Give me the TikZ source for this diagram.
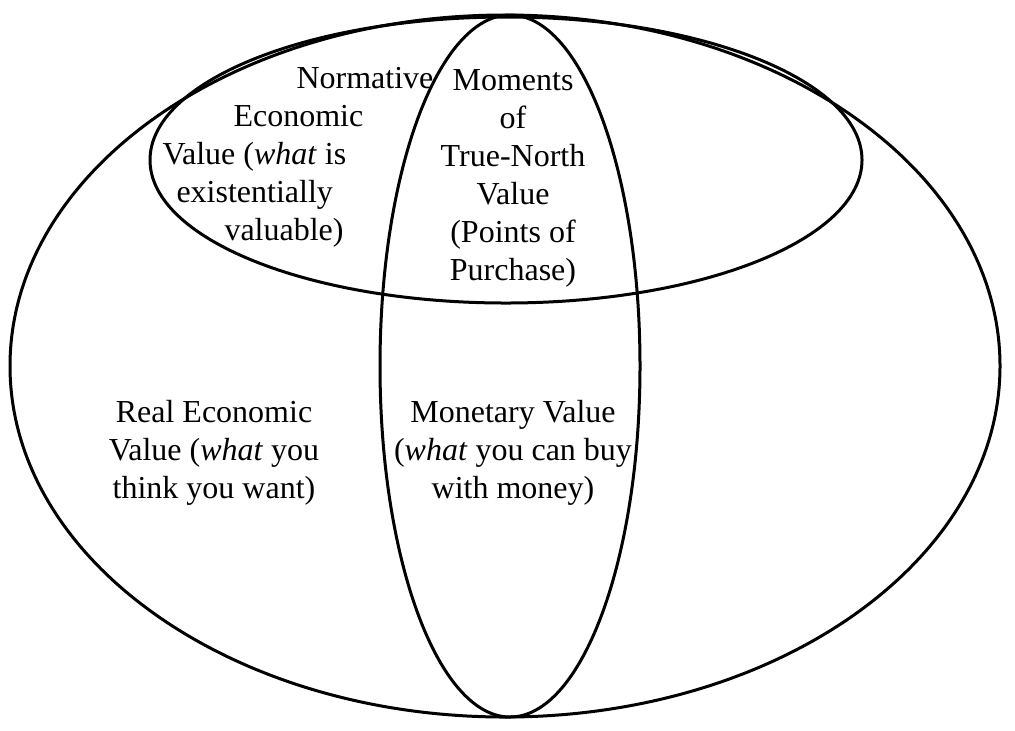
\documentclass[tikz,border=0pt]{standalone}
\usepackage{fontspec}
\setmainfont{Liberation Serif}

\begin{document}
\begin{tikzpicture}[x=0.5pt, y=-0.5pt, line width=1.5pt,
		txt/.style={font=\fontsize{16}{19}\selectfont, inner sep=0pt}]
		%%%%% START %%%%%
		\useasboundingbox (0, 0) rectangle (1015, 730);
		
		\draw (505, 366) ellipse [x radius=495, y radius=351];
		\draw (506, 160) ellipse [x radius=356, y radius=143];
		\draw (510, 366) ellipse [x radius=130, y radius=351];
		
		\foreach \x/\t [count=\i] in {295/Normative, 232/Economic, 161/{Value (\textit{what} is}, 175/existentially, 223/{valuable)}}
			\node[txt, anchor=base west] (norm\i) at (\x, {88+38*(\i-1)}) {\t};
		
		\foreach \t [count=\i] in {Moments, of, True-North, Value, {(Points of}, {Purchase)}}
			\node[txt, anchor=base] (mom\i) at (513, {90+38*(\i-1)}) {\t};
		
		\foreach \t [count=\i] in {Real Economic, {Value (\textit{what} you}, {think you want)}}
			\node[txt, anchor=base] (real\i) at (214, {422+38*(\i-1)}) {\t};
		
		\foreach \t [count=\i] in {Monetary Value, {(\textit{what} you can buy}, {with money)}}
			\node[txt, anchor=base] (mon\i) at (513, {422+38*(\i-1)}) {\t};
		
		%%%%% END %%%%%
	\end{tikzpicture}
\end{document}
